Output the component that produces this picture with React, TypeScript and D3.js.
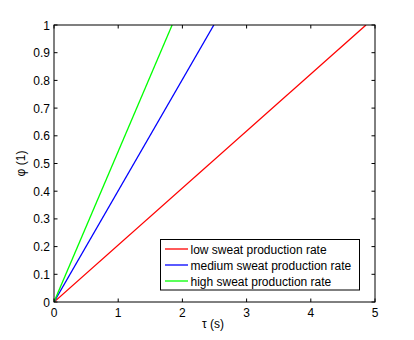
import React from "react";
import * as d3 from "d3";

const seriesNames = ["low sweat production rate", "medium sweat production rate", "high sweat production rate"];
const seriesColors = ["#ff0000", "#0000ff", "#00ff00"];
// tau at which phi reaches 1
const seriesTau = [[0, 4.86], [0, 2.49], [0, 1.84]];
const seriesPhi = [[0, 1], [0, 1], [0, 1]];
const xTicks = [0, 1, 2, 3, 4, 5];
const yTicks = [0, 0.1, 0.2, 0.3, 0.4, 0.5, 0.6, 0.7, 0.8, 0.9, 1];

export default function App() {
  const W = 414, H = 340;
  const L = 54, R = 375, T = 25, B = 302;
  const x = d3.scaleLinear().domain([0, 5]).range([L, R]);
  const y = d3.scaleLinear().domain([0, 1]).range([B, T]);
  const line = d3.line<[number, number]>().x(d => x(d[0])).y(d => y(d[1]));
  const font = "Liberation Sans, Arial, sans-serif";
  const tl = 3.5;
  return (
    <svg width={W} height={H} style={{ position: "absolute", left: 0, top: 0, background: "#fff" }}>
      <rect x={0} y={0} width={W} height={H} fill="#fff" />
      <defs>
        <clipPath id="clip"><rect x={L} y={T} width={R - L} height={B - T} /></clipPath>
      </defs>
      <g clipPath="url(#clip)">
        {seriesNames.map((n, i) => (
          <path key={n} d={line(seriesTau[i].map((t, j) => [t, seriesPhi[i][j]] as [number, number])) || ""}
            stroke={seriesColors[i]} strokeWidth={1.3} fill="none" />
        ))}
      </g>
      <rect x={L} y={T} width={R - L} height={B - T} fill="none" stroke="#000" strokeWidth={1} />
      {xTicks.map(t => (
        <g key={"x" + t}>
          <line x1={x(t)} x2={x(t)} y1={B} y2={B - tl} stroke="#000" />
          <line x1={x(t)} x2={x(t)} y1={T} y2={T + tl} stroke="#000" />
          <text x={x(t)} y={B + 15} fontFamily={font} fontSize={12} textAnchor="middle">{t}</text>
        </g>
      ))}
      {yTicks.map(t => (
        <g key={"y" + t}>
          <line x1={L} x2={L + tl} y1={y(t)} y2={y(t)} stroke="#000" />
          <line x1={R} x2={R - tl} y1={y(t)} y2={y(t)} stroke="#000" />
          <text x={L - 4} y={y(t) + 4.5} fontFamily={font} fontSize={12} textAnchor="end">{t}</text>
        </g>
      ))}
      <text x={213} y={328} fontFamily={font} fontSize={12} textAnchor="middle">τ (s)</text>
      <text transform={`translate(25, ${(T + B) / 2}) rotate(-90)`} fontFamily={font} fontSize={12} textAnchor="middle">φ (1)</text>
      <g>
        <rect x={160.5} y={239.5} width={199} height={50.5} fill="#fff" stroke="#000" strokeWidth={1} />
        {seriesNames.map((n, i) => (
          <g key={"lg" + i}>
            <line x1={165} x2={188} y1={249 + i * 16} y2={249 + i * 16} stroke={seriesColors[i]} strokeWidth={1.3} />
            <text x={190.5} y={253.5 + i * 16} fontFamily={font} fontSize={12}>{n}</text>
          </g>
        ))}
      </g>
    </svg>
  );
}
